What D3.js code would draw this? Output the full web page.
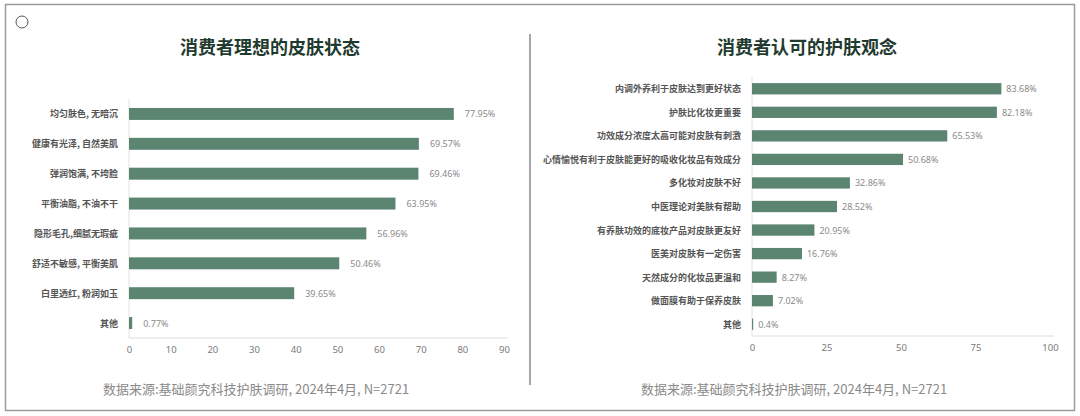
<!DOCTYPE html>
<html>
<head>
<meta charset="utf-8">
<script src="https://cdn.jsdelivr.net/npm/d3@7"></script>
<style>
  body { margin: 0; background: #fff; }
  svg { font-family: "Noto Sans CJK SC", "Noto Sans", sans-serif; }
</style>
</head>
<body>
<div id="chart"></div>
<script>
// Left chart data
const leftTitle = "消费者理想的皮肤状态";
const leftCategories = ["均匀肤色, 无暗沉", "健康有光泽, 自然美肌", "弹润饱满, 不垮脸", "平衡油脂, 不油不干",
    "隐形毛孔,细腻无瑕疵", "舒适不敏感, 平衡美肌", "白里透红, 粉润如玉", "其他"];
const leftValues = [77.95, 69.57, 69.46, 63.95, 56.96, 50.46, 39.65, 0.77];
const leftTicks = [0, 10, 20, 30, 40, 50, 60, 70, 80, 90];

// Right chart data
const rightTitle = "消费者认可的护肤观念";
const rightCategories = ["内调外养利于皮肤达到更好状态", "护肤比化妆更重要", "功效成分浓度太高可能对皮肤有刺激",
    "心情愉悦有利于皮肤能更好的吸收化妆品有效成分", "多化妆对皮肤不好", "中医理论对美肤有帮助",
    "有养肤功效的底妆产品对皮肤更友好", "医美对皮肤有一定伤害", "天然成分的化妆品更温和",
    "做面膜有助于保养皮肤", "其他"];
const rightValues = [83.68, 82.18, 65.53, 50.68, 32.86, 28.52, 20.95, 16.76, 8.27, 7.02, 0.4];
const rightTicks = [0, 25, 50, 75, 100];

const sourceText = "数据来源:基础颜究科技护肤调研, 2024年4月, N=2721";

const svgWidth = 1080, svgHeight = 416;
const barColor = "#5b8471";

const svg = d3.select("#chart")
    .append("svg")
    .attr("width", svgWidth)
    .attr("height", svgHeight);

// outer frame, divider and the little circle
svg.append("rect")
    .attr("x", 5.5).attr("y", 4.5)
    .attr("width", 1069).attr("height", 406)
    .attr("fill", "none")
    .attr("stroke", "#9a9a9a")
    .attr("stroke-width", 1.5);

svg.append("line")
    .attr("x1", 530).attr("x2", 530)
    .attr("y1", 34).attr("y2", 385)
    .attr("stroke", "#8a8a8a")
    .attr("stroke-width", 1.5);

svg.append("circle")
    .attr("cx", 22).attr("cy", 22).attr("r", 6)
    .attr("fill", "none")
    .attr("stroke", "#555")
    .attr("stroke-width", 1);

function drawPanel(opts) {
    const { title, categories, values, ticks, titleX, titleY, xRange, yRange, padding, sourceX } = opts;

    const x = d3.scaleLinear()
        .domain([ticks[0], ticks[ticks.length - 1]])
        .range(xRange);

    const y = d3.scaleBand()
        .domain(categories)
        .range(yRange)
        .paddingInner(padding)
        .paddingOuter(padding / 2);

    // Title
    svg.append("text")
        .attr("x", titleX)
        .attr("y", titleY)
        .attr("text-anchor", "middle")
        .attr("dominant-baseline", "central")
        .attr("font-size", 18)
        .attr("font-weight", "bold")
        .attr("fill", "#1f3a2e")
        .text(title);

    // vertical axis line
    svg.append("line")
        .attr("x1", xRange[0]).attr("x2", xRange[0])
        .attr("y1", yRange[0]).attr("y2", yRange[1])
        .attr("stroke", "#e2e2e2");

    // bottom axis
    const xAxis = svg.append("g")
        .attr("transform", `translate(0, ${yRange[1]})`)
        .call(d3.axisBottom(x).tickValues(ticks).tickSize(0).tickPadding(8));
    xAxis.select(".domain")
        .attr("stroke", "#dedede")
        .attr("d", `M${xRange[0]},0H${xRange[1] + 4}`);
    xAxis.selectAll("text")
        .attr("fill", "#7a7a7a")
        .attr("font-size", 9.5)
        .attr("font-family", "\"Noto Sans\", sans-serif");

    // category labels
    svg.append("g")
        .selectAll("text")
        .data(categories)
        .enter().append("text")
        .attr("x", xRange[0] - 11)
        .attr("y", d => y(d) + y.bandwidth() / 2)
        .attr("text-anchor", "end")
        .attr("dominant-baseline", "central")
        .attr("font-size", 9)
        .attr("font-weight", "bold")
        .attr("fill", "#555")
        .text(d => d);

    // bars
    svg.append("g")
        .attr("fill", barColor)
        .selectAll("rect")
        .data(values)
        .enter().append("rect")
        .attr("x", x(0))
        .attr("y", (d, i) => y(categories[i]))
        .attr("width", d => x(d) - x(0))
        .attr("height", y.bandwidth());

    // value labels
    svg.append("g")
        .selectAll("text")
        .data(values)
        .enter().append("text")
        .attr("x", d => x(d) + opts.labelGap)
        .attr("y", (d, i) => y(categories[i]) + y.bandwidth() / 2)
        .attr("dominant-baseline", "central")
        .attr("font-size", 9)
        .attr("font-family", "\"Noto Sans\", sans-serif")
        .attr("fill", "#8a8a8a")
        .text(d => d + "%");

    // source note
    svg.append("text")
        .attr("x", sourceX)
        .attr("y", 388)
        .attr("text-anchor", "middle")
        .attr("dominant-baseline", "central")
        .attr("font-size", 13)
        .attr("fill", "#8a8a8a")
        .text(sourceText);
}

drawPanel({
    title: leftTitle, categories: leftCategories, values: leftValues, ticks: leftTicks,
    titleX: 270, titleY: 46, xRange: [129, 504], yRange: [99, 338], padding: 0.6,
    sourceX: 256, labelGap: 11
});

drawPanel({
    title: rightTitle, categories: rightCategories, values: rightValues, ticks: rightTicks,
    titleX: 807, titleY: 46, xRange: [752, 1050], yRange: [77, 336], padding: 0.52,
    sourceX: 794, labelGap: 5
});
</script>
</body>
</html>
